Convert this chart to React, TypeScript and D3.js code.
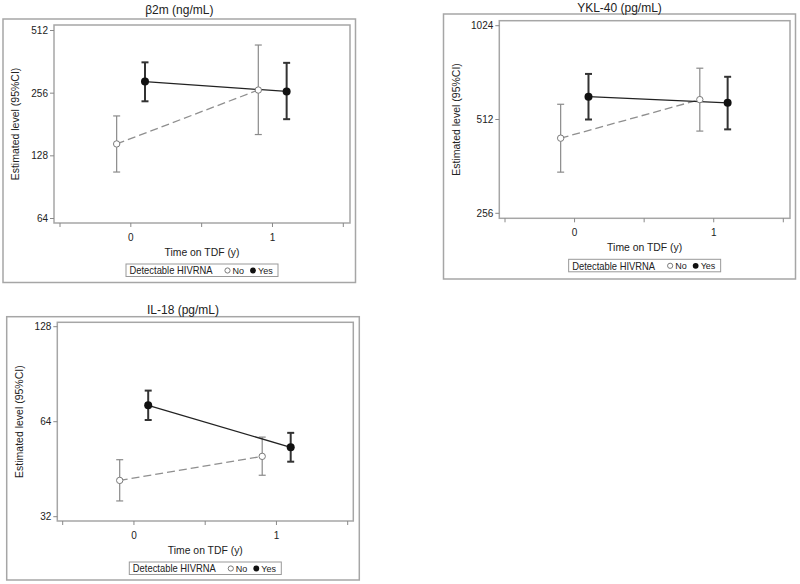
import React from "react";
import * as d3 from "d3";

// ---- data ----
const timePoints = [0, 1];
const xTickValues = [-0.5, 0, 0.5, 1, 1.5];
const xTickLabels = ["", "0", "", "1", ""];
const groupLabels = ["No", "Yes"];

// β2m (ng/mL)
const b2mTicks = [64, 128, 256, 512];
const b2mNoEst = [146, 265];
const b2mNoLo = [107, 162];
const b2mNoHi = [199, 436];
const b2mYesEst = [291, 261];
const b2mYesLo = [234, 192];
const b2mYesHi = [360, 358];

// YKL-40 (pg/mL)
const yklTicks = [256, 512, 1024];
const yklNoEst = [446, 593];
const yklNoLo = [347, 470];
const yklNoHi = [573, 748];
const yklYesEst = [606, 579];
const yklYesLo = [512, 476];
const yklYesHi = [717, 702];

// IL-18 (pg/mL)
const il18Ticks = [32, 64, 128];
const il18NoEst = [41.7, 49.7];
const il18NoLo = [35.9, 43.3];
const il18NoHi = [48.5, 57.2];
const il18YesEst = [72.1, 53.1];
const il18YesLo = [64.8, 47.8];
const il18YesHi = [80.3, 59.0];

const FONT = "'Liberation Sans', Arial, Helvetica, sans-serif";
const TEXT = "#222";
const FRAME = "#a6a6a6";

type PanelProps = {
  title: string;
  outer: [number, number, number, number];
  frame: [number, number, number, number];
  yTicks: number[];
  yPix: [number, number];
  xPix: [number, number];
  titleY: number;
  noEst: number[];
  noLo: number[];
  noHi: number[];
  yesEst: number[];
  yesLo: number[];
  yesHi: number[];
};

function Panel(p: PanelProps) {
  const [ox0, oy0, ox1, oy1] = p.outer;
  const [fx0, fy0, fx1, fy1] = p.frame;
  const yMin = p.yTicks[0];
  const yMax = p.yTicks[p.yTicks.length - 1];
  const y = d3.scaleLog().base(2).domain([yMin, yMax]).range(p.yPix);
  const x = d3.scaleLinear().domain([-0.5, 1.5]).range(p.xPix);
  const offset = 0.1;
  const cx = (fx0 + fx1) / 2;
  const cy = (fy0 + fy1) / 2;
  const tickLabelY = fy1 + 18;
  const legW = 152;
  const legX = cx - legW / 2;
  const legY = fy1 + 41;

  const series = [
    { key: "No", est: p.noEst, lo: p.noLo, hi: p.noHi, dx: -offset },
    { key: "Yes", est: p.yesEst, lo: p.yesLo, hi: p.yesHi, dx: offset },
  ];

  return (
    <g fontFamily={FONT}>
      <rect x={ox0} y={oy0} width={ox1 - ox0} height={oy1 - oy0} fill="none" stroke={FRAME} strokeWidth={1.5} />
      <text x={(ox0 + ox1) / 2} y={p.titleY} textAnchor="middle" fontSize={12} fill={TEXT}>
        {p.title}
      </text>
      <rect x={fx0} y={fy0} width={fx1 - fx0} height={fy1 - fy0} fill="white" stroke={FRAME} strokeWidth={1.5} />
      {/* y axis */}
      {p.yTicks.map((t) => (
        <g key={"y" + t}>
          <line x1={fx0 - 4} x2={fx0} y1={y(t)} y2={y(t)} stroke="#888" strokeWidth={1} />
          <text x={fx0 - 6} y={y(t) + 3.5} textAnchor="end" fontSize={10} fill={TEXT}>
            {t}
          </text>
        </g>
      ))}
      <text
        transform={`translate(${ox0 + 16},${cy}) rotate(-90)`}
        textAnchor="middle"
        fontSize={10.5}
        fill={TEXT}
      >
        Estimated level (95%CI)
      </text>
      {/* x axis */}
      {xTickValues.map((t, i) => (
        <g key={"x" + t}>
          <line x1={x(t)} x2={x(t)} y1={fy1} y2={fy1 + 4} stroke="#888" strokeWidth={1} />
          {xTickLabels[i] && (
            <text x={x(t)} y={tickLabelY} textAnchor="middle" fontSize={10} fill={TEXT}>
              {xTickLabels[i]}
            </text>
          )}
        </g>
      ))}
      <text x={cx} y={fy1 + 33} textAnchor="middle" fontSize={10.4} fill={TEXT}>
        Time on TDF (y)
      </text>
      {/* error bars */}
      {series.map((s) =>
        timePoints.map((t, i) => {
          const px = x(t + s.dx);
          const col = s.key === "No" ? "#8a8a8a" : "#333";
          const w = s.key === "No" ? 1.2 : 2;
          return (
            <g key={s.key + "e" + i} stroke={col} strokeWidth={w}>
              <line x1={px} x2={px} y1={y(s.lo[i])} y2={y(s.hi[i])} />
              <line x1={px - 3.5} x2={px + 3.5} y1={y(s.lo[i])} y2={y(s.lo[i])} />
              <line x1={px - 3.5} x2={px + 3.5} y1={y(s.hi[i])} y2={y(s.hi[i])} />
            </g>
          );
        })
      )}
      {/* lines */}
      {series.map((s) => {
        const path = d3
          .line<number>()
          .x((_, i) => x(timePoints[i] + s.dx))
          .y((v) => y(v))(s.est);
        return s.key === "No" ? (
          <path key={s.key + "l"} d={path || ""} fill="none" stroke="#8f8f8f" strokeWidth={1.3} strokeDasharray="8,4" />
        ) : (
          <path key={s.key + "l"} d={path || ""} fill="none" stroke="#222" strokeWidth={1.3} />
        );
      })}
      {/* markers */}
      {series.map((s) =>
        timePoints.map((t, i) =>
          s.key === "No" ? (
            <circle key={s.key + "m" + i} cx={x(t + s.dx)} cy={y(s.est[i])} r={3.2} fill="white" stroke="#7a7a7a" strokeWidth={1} />
          ) : (
            <circle key={s.key + "m" + i} cx={x(t + s.dx)} cy={y(s.est[i])} r={4} fill="#111" />
          )
        )
      )}
      {/* legend */}
      <rect x={legX} y={legY} width={legW} height={12.5} fill="white" stroke="#999" strokeWidth={1} />
      <text x={legX + 3.5} y={legY + 10.2} fontSize={10.5} fill={TEXT} textLength={83} lengthAdjust="spacingAndGlyphs">
        Detectable HIVRNA
      </text>
      <circle cx={legX + 101.5} cy={legY + 6.5} r={2.6} fill="white" stroke="#7a7a7a" strokeWidth={1} />
      <text x={legX + 106.5} y={legY + 10} fontSize={9} fill={TEXT}>
        {groupLabels[0]}
      </text>
      <circle cx={legX + 127} cy={legY + 6.5} r={2.9} fill="#111" />
      <text x={legX + 132} y={legY + 10} fontSize={9} fill={TEXT}>
        {groupLabels[1]}
      </text>
    </g>
  );
}

export default function App() {
  return (
    <svg
      width={800}
      height={584}
      viewBox="0 0 800 584"
      style={{ position: "absolute", left: 0, top: 0, background: "white" }}
    >
      <rect x={0} y={0} width={800} height={584} fill="white" />
      <Panel
        title="β2m (ng/mL)"
        outer={[3, 19, 355.5, 282.5]}
        frame={[54, 25, 350, 223]}
        yTicks={b2mTicks}
        yPix={[218.5, 30.5]}
        xPix={[60, 343.3]}
        titleY={13.5}
        noEst={b2mNoEst}
        noLo={b2mNoLo}
        noHi={b2mNoHi}
        yesEst={b2mYesEst}
        yesLo={b2mYesLo}
        yesHi={b2mYesHi}
      />
      <Panel
        title="YKL-40 (pg/mL)"
        outer={[443.5, 14, 795.5, 279]}
        frame={[499.3, 20.7, 790, 218.3]}
        yTicks={yklTicks}
        yPix={[213.3, 25.7]}
        xPix={[505, 783.3]}
        titleY={12}
        noEst={yklNoEst}
        noLo={yklNoLo}
        noHi={yklNoHi}
        yesEst={yklYesEst}
        yesLo={yklYesLo}
        yesHi={yklYesHi}
      />
      <Panel
        title="IL-18 (pg/mL)"
        outer={[6.7, 316.7, 359.3, 580]}
        frame={[57.3, 322.3, 353.3, 521]}
        yTicks={il18Ticks}
        yPix={[516.7, 326.7]}
        xPix={[62.7, 347.7]}
        titleY={313.5}
        noEst={il18NoEst}
        noLo={il18NoLo}
        noHi={il18NoHi}
        yesEst={il18YesEst}
        yesLo={il18YesLo}
        yesHi={il18YesHi}
      />
    </svg>
  );
}
